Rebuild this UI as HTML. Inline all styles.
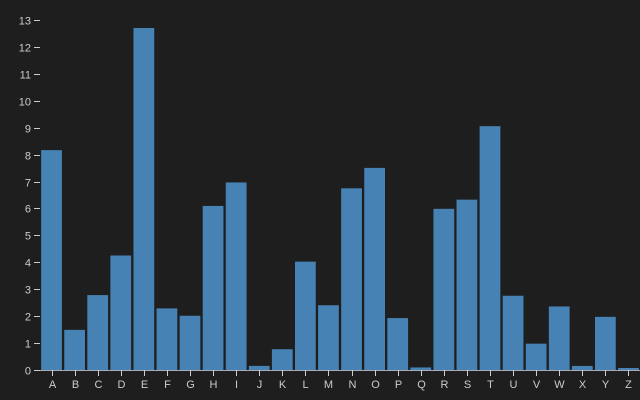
<!DOCTYPE html>
<html><head><meta charset="utf-8"><style>
html,body{margin:0;padding:0;background:#1e1e1e;}
svg{display:block;font-family:"Liberation Sans",sans-serif;}
</style></head><body>
<svg id="chart" width="640" height="400">
<rect width="640" height="400" fill="#1e1e1e"></rect>
</svg>
<script>
const categories = ["A","B","C","D","E","F","G","H","I","J","K","L","M","N","O","P","Q","R","S","T","U","V","W","X","Y","Z"];
const values = [8.167,1.492,2.782,4.253,12.702,2.288,2.015,6.094,6.966,0.153,0.772,4.025,2.406,6.749,7.507,1.929,0.095,5.987,6.327,9.056,2.758,0.978,2.360,0.150,1.974,0.074];
const yTicks = [0,1,2,3,4,5,6,7,8,9,10,11,12,13];

const NS="http://www.w3.org/2000/svg";
const svgEl=document.getElementById('chart');
const plotLeft=40,plotRight=640,plotTop=20,plotBottom=370,yMax=13;
const step=(plotRight-plotLeft)/categories.length, pad=0.1;
const xPos=i=>plotLeft+i*step+step*pad/2;
const bw=step*(1-pad);
const yPos=v=>plotBottom-(v/yMax)*(plotBottom-plotTop);
function mk(t,a){const e=document.createElementNS(NS,t);for(const k in a)e.setAttribute(k,a[k]);return e;}

const bars=mk('g',{});


svgEl.appendChild(bars);
values.forEach((v,i)=>{
  const r=mk('rect',{x:xPos(i),y:yPos(v),width:bw,height:plotBottom-yPos(v),fill:'#4682b4'});
  
  
  bars.appendChild(r);
});

const ya=mk('g',{});


svgEl.appendChild(ya);
yTicks.forEach(t=>{
  const yy=Math.round(yPos(t))+0.5;
  ya.appendChild(mk('line',{x1:plotLeft-6,x2:plotLeft,y1:yy,y2:yy,stroke:'#ccc'}));
  const tx=mk('text',{x:plotLeft-9,y:yy+4,'text-anchor':'end','font-size':11,fill:'#ccc'});
  tx.textContent=t;
  
  
  ya.appendChild(tx);
});

const xa=mk('g',{});


svgEl.appendChild(xa);
xa.appendChild(mk('line',{x1:plotLeft,x2:plotRight,y1:plotBottom+0.5,y2:plotBottom+0.5,stroke:'#aab'}));
categories.forEach((c,i)=>{
  const cx=Math.round(xPos(i)+bw/2)+0.5;
  xa.appendChild(mk('line',{x1:cx,x2:cx,y1:plotBottom,y2:plotBottom+6,stroke:'#ccc'}));
  const tx=mk('text',{x:cx,y:plotBottom+18,'text-anchor':'middle','font-size':11,fill:'#ccc'});
  tx.textContent=c;
  
  
  xa.appendChild(tx);
});
</script>
</body></html>
